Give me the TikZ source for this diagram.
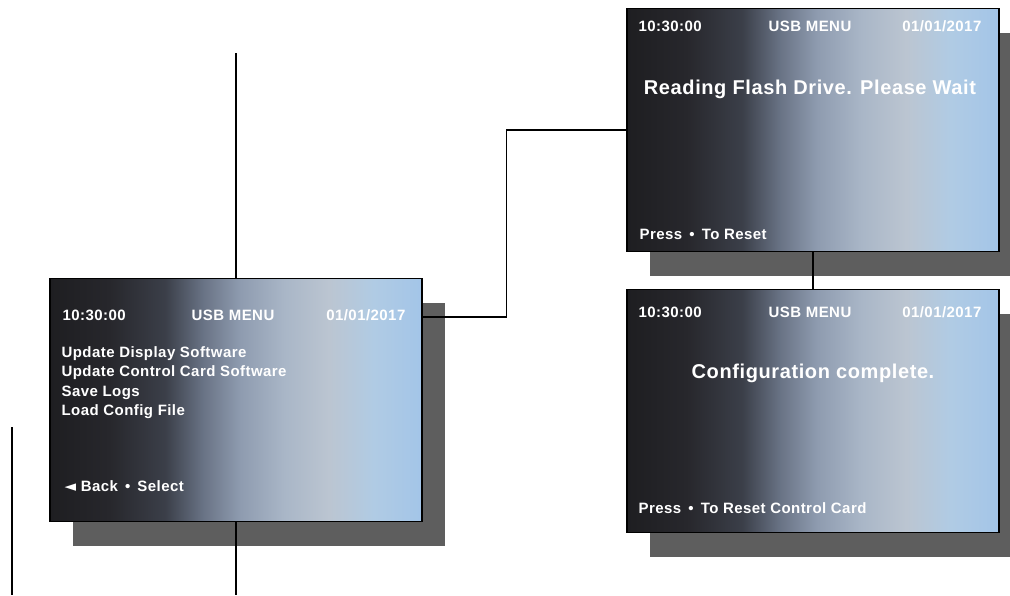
\documentclass[tikz,border=0pt]{standalone}
\usepackage{fontspec}
\setmainfont{Liberation Sans}
\newfontfamily\scrfont[LetterSpace=3]{Liberation Sans}
\newfontfamily\symfont{DejaVu Sans}
\usepackage{tikz}
\usetikzlibrary{positioning,calc,shadows}
\definecolor{lcdA}{HTML}{1E1E21}
\definecolor{lcdB}{HTML}{27272C}
\definecolor{lcdC}{HTML}{3B3F49}
\definecolor{lcdD}{HTML}{687284}
\definecolor{lcdE}{HTML}{8E9BAF}
\definecolor{lcdF}{HTML}{A9B6C7}
\definecolor{lcdG}{HTML}{BBC5D1}
\definecolor{lcdH}{HTML}{B0CBE4}
\definecolor{lcdI}{HTML}{A3C5E8}
\definecolor{shade}{HTML}{5E5E5E}
\pgfdeclarehorizontalshading{lcd}{100bp}{color(0bp)=(lcdA); color(25bp)=(lcdA);
  color(33bp)=(lcdB); color(40.5bp)=(lcdC); color(45.5bp)=(lcdD); color(50.5bp)=(lcdE);
  color(56.5bp)=(lcdF); color(62.5bp)=(lcdG); color(68.5bp)=(lcdH); color(75bp)=(lcdI);
  color(100bp)=(lcdI)}
\tikzset{
  screen/.style  = {rectangle, draw=black, line width=1.2pt, shade, shading=lcd,
                    minimum width=372pt, minimum height=243pt, inner sep=0pt,
                    drop shadow={shadow xshift=23pt, shadow yshift=-24pt, opacity=1, fill=shade}},
  hdr/.style     = {text=white, inner sep=0pt, font=\scrfont\bfseries\fontsize{15}{17}\selectfont},
  msg/.style     = {hdr, font=\scrfont\bfseries\fontsize{20}{23}\selectfont},
  wire/.style    = {draw=black, line width=1.6pt},
}

\begin{document}
\begin{tikzpicture}[x=1pt, y=-1pt]
  \useasboundingbox (0,0) rectangle (1010,595);
  \clip (0,0) rectangle (1010,595);

  %% ---- usb menu screen ------------------------------------------------------------
  \node[screen] (menu) at (236,400) {};
  \node[hdr, anchor=base west] (menu-time) at ($(menu.north west)+(13,43)$) {10:30:00};
  \node[hdr, anchor=base] (menu-title) at ($(menu.north)+(-3,43)$) {USB MENU};
  \node[hdr, anchor=base east] (menu-date) at ($(menu.north east)+(-17,43)$) {01/01/2017};
  \foreach \y/\lbl [count=\i] in {80/Update Display Software, 99/Update Control Card Software,
                                  119/Save Logs, 138/Load Config File} {
    \node[hdr, anchor=base west] (menu-item\i) at ($(menu.north west)+(12,\y)$) {\lbl};
  }
  \node[hdr, anchor=base west] (menu-keys) at ($(menu.north west)+(15,214)$)
    {{\symfont ◄} Back \,•\, Select};

  %% ---- reading screen ---------------------------------------------------------------
  \node[screen] (reading) at (813,130) {};
  \node[hdr, anchor=base west] (read-time) at ($(reading.north west)+(12,24)$) {10:30:00};
  \node[hdr, anchor=base] (read-title) at ($(reading.north)+(-3,24)$) {USB MENU};
  \node[hdr, anchor=base east] (read-date) at ($(reading.north east)+(-18,24)$) {01/01/2017};
  \node[msg, anchor=base] (read-msg) at ($(reading.north)+(-3,87)$) {Reading Flash Drive. Please Wait};
  \node[hdr, anchor=base west] (read-keys) at ($(reading.north west)+(13,232)$) {Press \,•\, To Reset};

  %% ---- config screen ----------------------------------------------------------------
  \node[screen] (config) at (813,411) {};
  \node[hdr, anchor=base west] (conf-time) at ($(config.north west)+(12,29)$) {10:30:00};
  \node[hdr, anchor=base] (conf-title) at ($(config.north)+(-3,29)$) {USB MENU};
  \node[hdr, anchor=base east] (conf-date) at ($(config.north east)+(-18,29)$) {01/01/2017};
  \node[msg, anchor=base] (conf-msg) at ($(config.north)+(0,90)$) {Configuration complete.};
  \node[hdr, anchor=base west] (conf-keys) at ($(config.north west)+(12,225)$) {Press \,•\, To Reset Control Card};

  % the wiring between screens
  \coordinate (feedtop) at (236,53);
  \coordinate (feedbot) at (236,595);
  \coordinate (sidetop) at (12,427);
  \coordinate (sidebot) at (12,595);
  \draw[wire] (feedtop) -- (menu.north);
  \draw[wire] (menu.south) -- (feedbot);
  \draw[wire] (sidetop) -- (sidebot);
  \draw[wire] ([yshift=83pt]menu.east) -- ++(84,0) |- (reading.west);
  \draw[wire] (reading.south) -- (config.north);
\end{tikzpicture}
\end{document}
